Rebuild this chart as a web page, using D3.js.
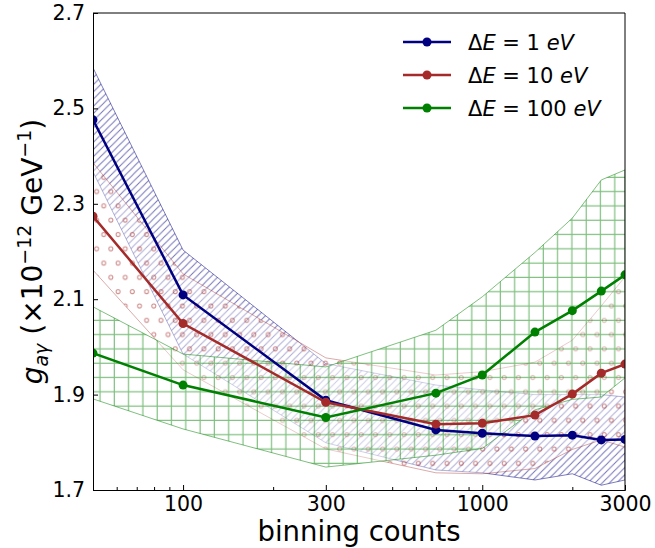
<!DOCTYPE html>
<html lang="en">
  <head>
    <meta charset="UTF-8" />
    <title>Coupling vs binning counts</title>
    <script src="https://d3js.org/d3.v7.min.js"></script>
    <style>
      body {
        margin: 0;
        background: #fff;
      }
      text {
        font-family: "DejaVu Sans", sans-serif;
      }
    </style>
  </head>
  <body>
    <div id="chart"></div>
    <script>
      const binCounts = [50, 100, 300, 700, 1000, 1500, 2000, 2500, 3000];

      const g1 = [2.476, 2.109, 1.888, 1.826, 1.819, 1.813, 1.815, 1.805, 1.806];
      const g1Upper = [2.585, 2.203, 1.965, 1.92, 1.91, 1.9, 1.9, 1.9, 1.895];
      const g1Lower = [2.367, 1.985, 1.799, 1.742, 1.736, 1.721, 1.734, 1.71, 1.721];

      const g10 = [2.274, 2.049, 1.884, 1.838, 1.84, 1.857, 1.901, 1.945, 1.964];
      const g10Upper = [2.386, 2.153, 1.977, 1.941, 1.948, 1.968, 2.014, 2.086, 2.147];
      const g10Lower = [2.161, 1.952, 1.786, 1.736, 1.734, 1.745, 1.785, 1.805, 1.79];

      const g100 = [1.987, 1.92, 1.852, 1.903, 1.941, 2.031, 2.076, 2.117, 2.151];
      const g100Upper = [2.084, 1.985, 1.958, 2.035, 2.105, 2.198, 2.27, 2.35, 2.371];
      const g100Lower = [1.891, 1.828, 1.748, 1.773, 1.787, 1.868, 1.89, 1.895, 1.935];

      const yTicks = [1.7, 1.9, 2.1, 2.3, 2.5, 2.7];
      const xTicks = [100, 300, 1000, 3000];
      const xMinorTicks = [60, 70, 80, 90, 200, 400, 500, 600, 700, 800, 900, 2000];

      const series = [
        {label: "1", color: "#000080", mid: g1, upper: g1Upper, lower: g1Lower, pattern: "hatchBlue"},
        {label: "10", color: "#a52a2a", mid: g10, upper: g10Upper, lower: g10Lower, pattern: "dotsRed"},
        {label: "100", color: "#008000", mid: g100, upper: g100Upper, lower: g100Lower, pattern: "gridGreen"},
      ];

      const W = 655, H = 548;
      const margin = {top: 13, right: 30, bottom: 58, left: 93};
      const width = W - margin.left - margin.right;
      const height = H - margin.top - margin.bottom;

      const svg = d3.select("#chart").append("svg").attr("width", W).attr("height", H);
      const defs = svg.append("defs");

      defs.append("clipPath").attr("id", "plotClip")
        .append("rect").attr("width", width).attr("height", height);

      // hatch patterns like matplotlib's '///', 'o' and '+'
      const hb = defs.append("pattern").attr("id", "hatchBlue")
        .attr("patternUnits", "userSpaceOnUse").attr("width", 7.2).attr("height", 7.2);
      hb.append("path")
        .attr("d", "M-1.8,1.8 L1.8,-1.8 M0,7.2 L7.2,0 M5.4,9 L9,5.4")
        .attr("stroke", "#000080").attr("stroke-opacity", 0.55).attr("stroke-width", 1);

      const dr = defs.append("pattern").attr("id", "dotsRed")
        .attr("patternUnits", "userSpaceOnUse").attr("width", 14.3).attr("height", 28.6);
      [[3.6, 7], [10.75, 21.3]].forEach(([cx, cy]) => {
        dr.append("circle").attr("cx", cx).attr("cy", cy).attr("r", 2)
          .attr("fill", "none").attr("stroke", "#a52a2a").attr("stroke-opacity", 0.55).attr("stroke-width", 1);
      });

      const gg = defs.append("pattern").attr("id", "gridGreen")
        .attr("patternUnits", "userSpaceOnUse").attr("width", 14.3).attr("height", 14.3);
      gg.append("path").attr("d", "M7,0 V14.3 M0,7 H14.3")
        .attr("stroke", "#008000").attr("stroke-opacity", 0.5).attr("stroke-width", 1.2);

      const g = svg.append("g").attr("transform", `translate(${margin.left},${margin.top})`);

      const x = d3.scaleLog().domain([50, 3000]).range([0, width]);
      const y = d3.scaleLinear().domain([1.7, 2.7]).range([height, 0]);

      const plot = g.append("g").attr("clip-path", "url(#plotClip)");

      const area = d3.area()
        .x((d) => x(d.x))
        .y0((d) => y(d.lo))
        .y1((d) => y(d.hi));

      series.forEach((s, k) => {
        const pts = binCounts.map((v, i) => ({x: v, lo: s.lower[i], hi: s.upper[i]}));
        if (k > 0) {
          plot.append("path").datum(pts).attr("d", area)
            .attr("fill", "#fff").attr("fill-opacity", 0.4);
        }
        plot.append("path").datum(pts).attr("d", area)
          .attr("fill", `url(#${s.pattern})`)
          .attr("stroke", s.color).attr("stroke-opacity", k === 1 ? 0.4 : 0.5).attr("stroke-width", 1);
      });

      const line = d3.line().x((d) => x(d.x)).y((d) => y(d.v));

      series.forEach((s) => {
        const pts = binCounts.map((v, i) => ({x: v, v: s.mid[i]}));
        plot.append("path").datum(pts).attr("d", line)
          .attr("fill", "none").attr("stroke", s.color).attr("stroke-width", 2.5);
        plot.selectAll(null).data(pts).enter().append("circle")
          .attr("cx", (d) => x(d.x)).attr("cy", (d) => y(d.v)).attr("r", 4.5)
          .attr("fill", s.color);
      });

      // axes, ticks pointing inward
      const xAxis = g.append("g").attr("transform", `translate(0,${height})`)
        .call(d3.axisBottom(x).tickValues(xTicks).tickFormat(d3.format("d")).tickSize(-5).tickPadding(6));
      g.append("g").attr("transform", `translate(0,${height})`)
        .call(d3.axisBottom(x).tickValues(xMinorTicks).tickFormat("").tickSize(-3))
        .call((a) => a.select(".domain").remove());
      const yAxis = g.append("g")
        .call(d3.axisLeft(y).tickValues(yTicks).tickFormat(d3.format(".1f")).tickSize(-5).tickPadding(8));

      [xAxis, yAxis].forEach((a) => {
        a.selectAll("text").attr("font-size", "20.5px").attr("fill", "#000");
      });
      g.selectAll(".domain").attr("stroke", "#000");
      g.selectAll(".tick line").attr("stroke", "#000");

      g.append("line").attr("x1", 0).attr("x2", width).attr("y1", 0).attr("y2", 0).attr("stroke", "#000");
      g.append("line").attr("x1", width).attr("x2", width).attr("y1", 0).attr("y2", height).attr("stroke", "#000");

      // axis labels
      svg.append("text")
        .attr("x", margin.left + width / 2).attr("y", 541)
        .attr("text-anchor", "middle").attr("font-size", "27.5px")
        .text("binning counts");

      const yl = svg.append("text")
        .attr("transform", `translate(42,${margin.top + height / 2}) rotate(-90)`)
        .attr("text-anchor", "middle").attr("font-size", "28px");
      yl.append("tspan").attr("font-style", "italic").text("g");
      yl.append("tspan").attr("font-style", "italic").attr("font-size", "19px").attr("dy", 6).text("aγ");
      yl.append("tspan").attr("dy", -6).text(" (×10");
      yl.append("tspan").attr("font-size", "19px").attr("dy", -11).text("−12");
      yl.append("tspan").attr("dy", 11).text(" GeV");
      yl.append("tspan").attr("font-size", "19px").attr("dy", -11).text("−1");
      yl.append("tspan").attr("dy", 11).text(")");

      // legend
      const legend = svg.append("g");
      series.forEach((s, i) => {
        const ly = 42 + i * 33;
        legend.append("line").attr("x1", 403).attr("x2", 451).attr("y1", ly).attr("y2", ly)
          .attr("stroke", s.color).attr("stroke-width", 2.5);
        legend.append("circle").attr("cx", 427).attr("cy", ly).attr("r", 4.5).attr("fill", s.color);
        const t = legend.append("text").attr("x", 468).attr("y", ly + 7.5).attr("font-size", "21px");
        t.append("tspan").text("Δ");
        t.append("tspan").attr("font-style", "italic").text("E");
        t.append("tspan").text(` = ${s.label} `);
        t.append("tspan").attr("font-style", "italic").text("eV");
      });
    </script>
  </body>
</html>
